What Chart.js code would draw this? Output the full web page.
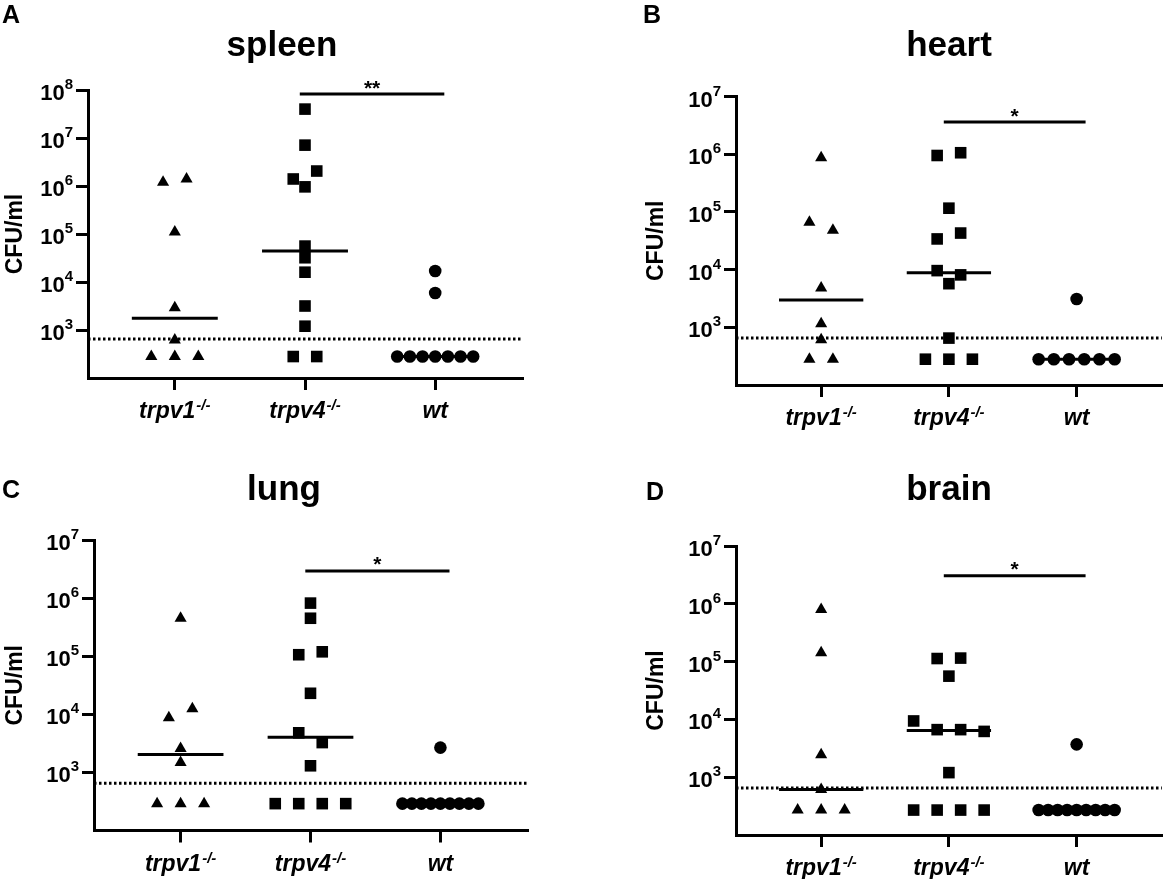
<!DOCTYPE html>
<html>
<head>
<meta charset="utf-8">
<title>CFU/ml per organ</title>
<script src="https://cdn.jsdelivr.net/npm/chart.js@4.4.1/dist/chart.umd.min.js"></script>
<style>
  html, body { margin: 0; padding: 0; background: #fff; }
  #wrap { position: relative; width: 1170px; height: 879px; overflow: hidden; }
  #wrap canvas { position: absolute; }
</style>
</head>
<body>
<div id="wrap">
  <canvas id="chartA" width="585" height="440" style="left:0;top:0"></canvas>
  <canvas id="chartB" width="585" height="440" style="left:585px;top:0"></canvas>
  <canvas id="chartC" width="585" height="439" style="left:0;top:440px"></canvas>
  <canvas id="chartD" width="585" height="439" style="left:585px;top:440px"></canvas>
</div>
<script>
// groups on the x axis
const GROUP_NAMES = ['trpv1', 'trpv4', 'wt'];
const GROUP_SUPS = ['-/-', '-/-', ''];

// detection limit (dotted line)
const LOD = 650;

// spleen
const spleenTrpv1 = [1.2e6, 1.4e6, 1.1e5, 2.9e3, 620, 280, 280, 280];
const spleenTrpv4 = [4.0e7, 7.1e6, 1.4e6, 2.05e6, 9.6e5, 5.6e4, 3.2e4, 1.6e4, 3.16e3, 1.2e3, 280, 280];
const spleenWt = [1.7e4, 5.9e3, 280, 280, 280, 280, 280, 280, 280];
const spleenExps = [3, 4, 5, 6, 7, 8];
const spleenSig = ['**', 8.25e7];

// heart
const heartTrpv1 = [8.7e5, 6.6e4, 4.8e4, 4.8e3, 1.15e3, 610, 280, 280];
const heartTrpv4 = [9.5e5, 1.06e6, 1.16e5, 3.4e4, 4.3e4, 9.6e3, 8.1e3, 5.7e3, 650, 280, 280, 280];
const heartWt = [3.1e3, 280, 280, 280, 280, 280, 280];
const heartExps = [3, 4, 5, 6, 7];
const heartSig = ['*', 3.6e6];

// lung
const lungTrpv1 = [4.5e5, 8.7e3, 1.25e4, 2.57e3, 1.48e3, 290, 290, 290];
const lungTrpv4 = [8.2e5, 4.5e5, 1.06e5, 1.19e5, 2.3e4, 4.8e3, 3.26e3, 1.3e3, 290, 290, 290, 290];
const lungWt = [2.67e3, 290, 290, 290, 290, 290, 290, 290, 290, 290];
const lungExps = [3, 4, 5, 6, 7];
const lungSig = ['*', 2.94e6];

// brain
const brainTrpv1 = [8.0e5, 1.42e5, 2.45e3, 610, 270, 270, 270];
const brainTrpv4 = [1.13e5, 1.15e5, 5.6e4, 9.4e3, 6.65e3, 6.65e3, 6.2e3, 1.2e3, 270, 270, 270, 270];
const brainWt = [3.7e3, 270, 270, 270, 270, 270, 270, 270, 270, 270];
const brainExps = [3, 4, 5, 6, 7];
const brainSig = ['*', 3.06e6];

// --- styling / layout ---
const FONT = '"Liberation Sans", Arial, Helvetica, sans-serif';
const MARKERS = ['triangle', 'rect', 'circle'];
const MARKER_RADIUS = [7, 8.2, 6.3];
const X_MIN = -2 / 3;
const X_MAX = 2 + 2 / 3;
const MEDIAN_HALF = 0.33;
const SIG_FROM = 0.96;
const SIG_TO = 2.07;
const ROW_OVERLAP = 11.5; // px, points closer than this share a row
const DOT_STEP = 23.5;    // px between neighbours in a row
const ROW_SPAN = 76;      // px, widest a row may get

const PANELS = [
  { id: 'chartA', letter: 'A', title: 'spleen', groups: [spleenTrpv1, spleenTrpv4, spleenWt],
    exps: spleenExps, sig: spleenSig,
    area: { left: 88, top: 90, right: 522, bottom: 378 },
    letterPos: [11, 16], titlePos: [282, 56], yTitleX: 15.5 },
  { id: 'chartB', letter: 'B', title: 'heart', groups: [heartTrpv1, heartTrpv4, heartWt],
    exps: heartExps, sig: heartSig,
    area: { left: 151, top: 96.5, right: 584, bottom: 385 },
    letterPos: [67, 16], titlePos: [364, 56], yTitleX: 72 },
  { id: 'chartC', letter: 'C', title: 'lung', groups: [lungTrpv1, lungTrpv4, lungWt],
    exps: lungExps, sig: lungSig,
    area: { left: 94, top: 100, right: 527, bottom: 390.5 },
    letterPos: [11, 51], titlePos: [284, 60], yTitleX: 15.5 },
  { id: 'chartD', letter: 'D', title: 'brain', groups: [brainTrpv1, brainTrpv4, brainWt],
    exps: brainExps, sig: brainSig,
    area: { left: 151, top: 106, right: 584, bottom: 395 },
    letterPos: [70, 53], titlePos: [364, 60], yTitleX: 72 }
];

function median(values) {
  const s = [...values].sort((a, b) => a - b);
  const m = Math.floor(s.length / 2);
  return s.length % 2 ? s[m] : (s[m - 1] + s[m]) / 2;
}

// column scatter: points that overlap vertically are put side by side
function swarmOffsets(values, yScale, pxPerUnit) {
  const order = values.map((_, i) => i).sort((a, b) => values[b] - values[a] || a - b);
  const offsets = new Array(values.length).fill(0);
  let k = 0;
  while (k < order.length) {
    const y0 = yScale.getPixelForValue(values[order[k]]);
    let end = k + 1;
    while (end < order.length && yScale.getPixelForValue(values[order[end]]) - y0 < ROW_OVERLAP) end++;
    const row = order.slice(k, end).sort((a, b) => a - b);
    const n = row.length;
    const step = n > 1 ? Math.min(DOT_STEP, ROW_SPAN / (n - 1)) : 0;
    row.forEach((i, j) => { offsets[i] = (j - (n - 1) / 2) * step / pxPerUnit; });
    k = end;
  }
  return offsets;
}

function textPlugin(p) {
  return {
    id: 'panelText',
    afterDraw(chart) {
      const { ctx, chartArea, scales } = chart;
      ctx.save();
      ctx.fillStyle = '#000';

      ctx.font = `bold 25px ${FONT}`;
      ctx.textAlign = 'center';
      ctx.textBaseline = 'middle';
      ctx.fillText(p.letter, p.letterPos[0], p.letterPos[1]);

      ctx.font = `bold 35px ${FONT}`;
      ctx.textBaseline = 'alphabetic';
      ctx.fillText(p.title, p.titlePos[0], p.titlePos[1]);

      ctx.save();
      ctx.translate(p.yTitleX, (chartArea.top + chartArea.bottom) / 2);
      ctx.rotate(-Math.PI / 2);
      ctx.font = `bold 23px ${FONT}`;
      ctx.textBaseline = 'middle';
      ctx.fillText('CFU/ml', 0, 0);
      ctx.restore();

      // y tick labels 10^n
      ctx.textAlign = 'right';
      ctx.textBaseline = 'alphabetic';
      for (const t of scales.y.ticks) {
        const y = scales.y.getPixelForValue(t.value);
        const exp = String(Math.round(Math.log10(t.value)));
        const right = chartArea.left - 15;
        ctx.font = `bold 15px ${FONT}`;
        const supW = ctx.measureText(exp).width;
        ctx.fillText(exp, right, y - 1);
        ctx.font = `bold 22px ${FONT}`;
        ctx.fillText('10', right - supW, y + 10);
      }

      // x tick labels with superscript
      ctx.textAlign = 'left';
      scales.x.ticks.forEach((t, i) => {
        const x = scales.x.getPixelForValue(t.value);
        const base = chartArea.bottom + 40;
        ctx.font = `italic bold 23px ${FONT}`;
        const mainW = ctx.measureText(GROUP_NAMES[i]).width;
        ctx.font = `italic bold 15px ${FONT}`;
        const supW = GROUP_SUPS[i] ? ctx.measureText(GROUP_SUPS[i]).width + 1 : 0;
        const left = x - (mainW + supW) / 2;
        ctx.font = `italic bold 23px ${FONT}`;
        ctx.fillText(GROUP_NAMES[i], left, base);
        if (GROUP_SUPS[i]) {
          ctx.font = `italic bold 15px ${FONT}`;
          ctx.fillText(GROUP_SUPS[i], left + mainW + 1, base - 8);
        }
      });

      // significance stars
      ctx.textAlign = 'center';
      ctx.font = `bold 21px ${FONT}`;
      ctx.fillText(p.sig[0], scales.x.getPixelForValue((SIG_FROM + SIG_TO) / 2),
        scales.y.getPixelForValue(p.sig[1]) + 0.5);

      ctx.restore();
    }
  };
}

function axisOptions(extra) {
  return Object.assign({
    ticks: { display: false },
    grid: { display: true, drawOnChartArea: false, drawTicks: true, tickLength: 12, lineWidth: 3, color: '#000' },
    border: { display: true, width: 3, color: '#000' }
  }, extra);
}

function renderPanel(p) {
  const canvas = document.getElementById(p.id);
  const W = canvas.width, H = canvas.height;
  const datasets = [];

  p.groups.forEach((vals, g) => {
    datasets.push({
      type: 'scatter',
      data: vals.map(v => ({ x: g, y: v })),
      pointStyle: MARKERS[g],
      pointRadius: MARKER_RADIUS[g],
      backgroundColor: '#000',
      borderWidth: 0,
      order: 0
    });
  });
  p.groups.forEach((vals, g) => {
    const m = median(vals);
    datasets.push({
      type: 'line',
      data: [{ x: g - MEDIAN_HALF, y: m }, { x: g + MEDIAN_HALF, y: m }],
      borderColor: '#000', borderWidth: 3, pointRadius: 0, order: 1
    });
  });
  datasets.push({
    type: 'line',
    data: [{ x: X_MIN, y: LOD }, { x: X_MAX, y: LOD }],
    borderColor: '#000', borderWidth: 3, borderDash: [2.5, 2.5], pointRadius: 0, order: 2
  });
  datasets.push({
    type: 'line',
    data: [{ x: SIG_FROM, y: p.sig[1] }, { x: SIG_TO, y: p.sig[1] }],
    borderColor: '#000', borderWidth: 3, pointRadius: 0, order: 1
  });

  const pad = { left: p.area.left - 12, top: p.area.top, right: W - p.area.right, bottom: H - p.area.bottom - 12 };
  const top = Math.pow(10, p.exps[p.exps.length - 1]);

  const chart = new Chart(canvas, {
    type: 'scatter',
    data: { datasets },
    options: {
      responsive: false,
      animation: false,
      events: [],
      clip: false,
      layout: { padding: pad },
      plugins: { legend: { display: false }, tooltip: { enabled: false } },
      elements: { line: { tension: 0, fill: false } },
      scales: {
        x: axisOptions({
          type: 'linear', min: X_MIN, max: X_MAX,
          afterBuildTicks: s => { s.ticks = GROUP_NAMES.map((_, i) => ({ value: i })); }
        }),
        y: axisOptions({
          type: 'logarithmic', min: 100, max: top,
          afterBuildTicks: s => { s.ticks = p.exps.map(e => ({ value: Math.pow(10, e) })); }
        })
      }
    },
    plugins: [textPlugin(p)]
  });

  // nudge padding so the plot area lands where the reference has it
  const a = chart.chartArea;
  pad.left += p.area.left - a.left;
  pad.top += p.area.top - a.top;
  pad.right += a.right - p.area.right;
  pad.bottom += a.bottom - p.area.bottom;
  chart.update('none');

  // spread overlapping points
  const pxPerUnit = chart.scales.x.getPixelForValue(1) - chart.scales.x.getPixelForValue(0);
  p.groups.forEach((vals, g) => {
    const off = swarmOffsets(vals, chart.scales.y, pxPerUnit);
    chart.data.datasets[g].data = vals.map((v, i) => ({ x: g + off[i], y: v }));
  });
  chart.update('none');
}

PANELS.forEach(renderPanel);
</script>
</body>
</html>
